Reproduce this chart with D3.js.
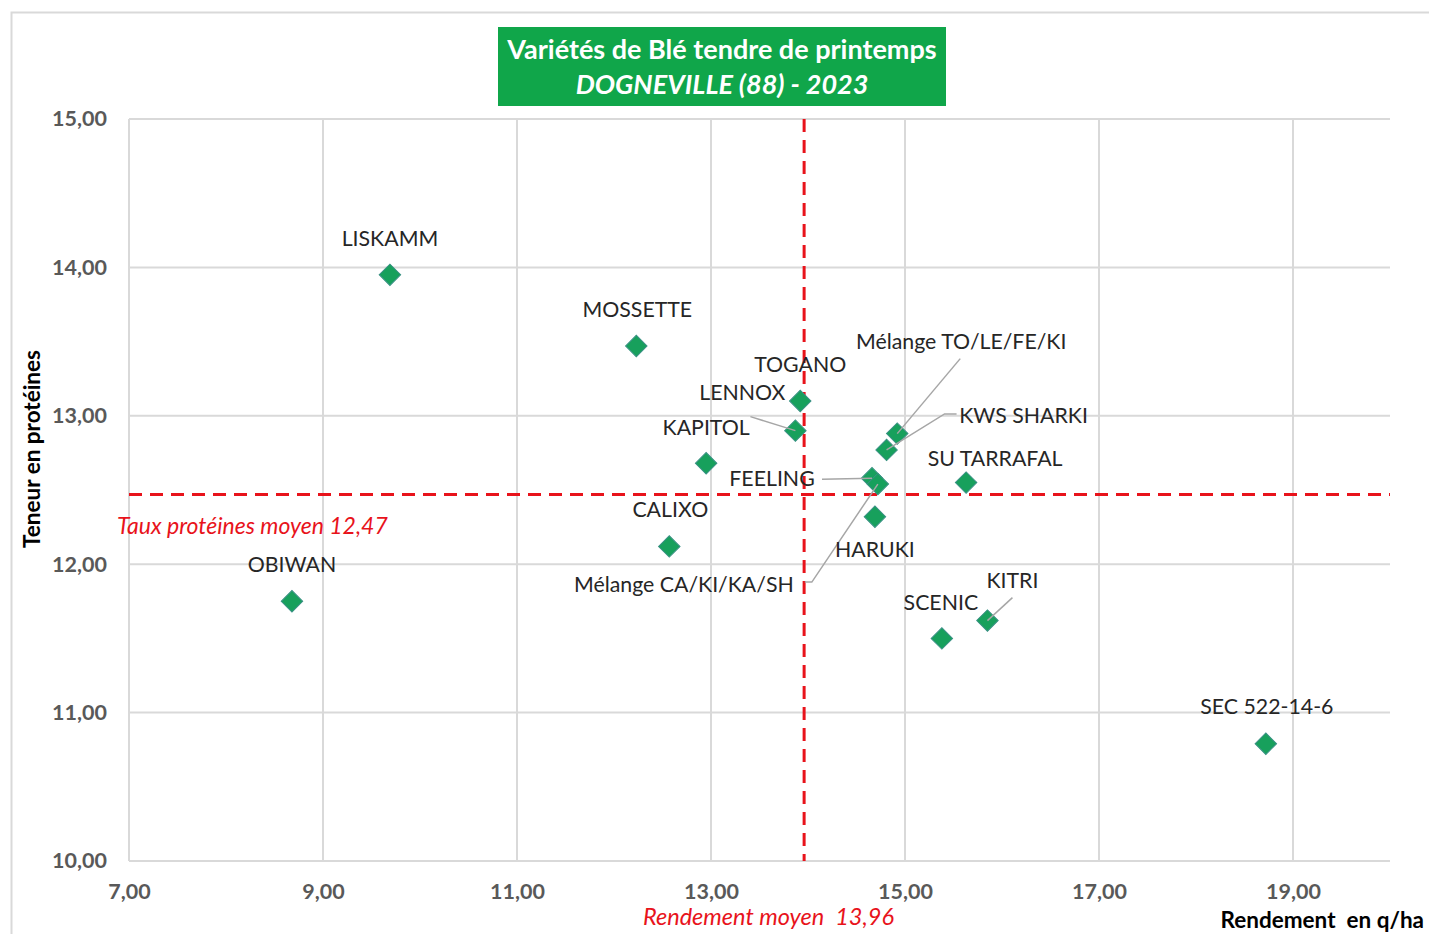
<!DOCTYPE html>
<html>
<head>
<meta charset="utf-8">
<script src="https://cdn.jsdelivr.net/npm/d3@7"></script>
<style>
  body { margin: 0; background: #fff; }
  svg { display: block; font-family: Lato, 'Open Sans', sans-serif; }
</style>
</head>
<body>
<div id="chart"></div>
<script>
// values
const varieties = ['LISKAMM', 'MOSSETTE', 'TOGANO', 'LENNOX', 'KAPITOL', 'Mélange TO/LE/FE/KI',
  'KWS SHARKI', 'FEELING', 'Mélange CA/KI/KA/SH', 'SU TARRAFAL', 'HARUKI', 'CALIXO',
  'OBIWAN', 'SCENIC', 'KITRI', 'SEC 522-14-6']
const rendement = [9.69, 12.23, 13.92, 13.87, 12.95, 14.92, 14.81, 14.66, 14.72, 15.63, 14.69, 12.57, 8.68, 15.38, 15.85, 18.72]
const proteines = [13.95, 13.47, 13.10, 12.90, 12.68, 12.88, 12.77, 12.58, 12.54, 12.55, 12.32, 12.12, 11.75, 11.50, 11.62, 10.79]
const xTicks = [7, 9, 11, 13, 15, 17, 19]
const yTicks = [10, 11, 12, 13, 14, 15]
const moyRendement = 13.96
const moyProteines = 12.47

// label placement (pixel offsets from the marker), leader = polyline from label to marker
const labelLayout = {
  'LISKAMM': { dx: 0, dy: -37 },
  'MOSSETTE': { dx: 1, dy: -37 },
  'TOGANO': { dx: 0, dy: -37 },
  'LENNOX': { dx: -53, dy: -39, leader: [[-45, -14], [0, 0]] },
  'KAPITOL': { dx: 0, dy: -36 },
  'Mélange TO/LE/FE/KI': { dx: 64, dy: -93, leader: [[63, -75], [0, 0]] },
  'KWS SHARKI': { dx: 137, dy: -35, leader: [[70, -36], [58, -36], [0, 0]] },
  'FEELING': { dx: -100, dy: 0, leader: [[-50, 1], [0, 0]] },
  'Mélange CA/KI/KA/SH': { dx: -194, dy: 100, leader: [[-73, 98], [-66, 98], [0, 0]] },
  'SU TARRAFAL': { dx: 29, dy: -25 },
  'HARUKI': { dx: 0, dy: 32 },
  'CALIXO': { dx: 1, dy: -37 },
  'OBIWAN': { dx: 0, dy: -37 },
  'SCENIC': { dx: -1, dy: -36 },
  'KITRI': { dx: 25, dy: -41, leader: [[25, -23], [0, 0]] },
  'SEC 522-14-6': { dx: 1, dy: -38 }
}

const data = varieties.map((v, i) => ({ name: v, x: rendement[i], y: proteines[i] }))

const width = 1429, height = 934
const fmt = v => d3.format('.2f')(v).replace('.', ',')

const svg = d3.select('#chart').append('svg')
  .attr('width', width)
  .attr('height', height)

// chart frame
svg.append('rect')
  .attr('x', 11.5).attr('y', 12.5)
  .attr('width', 1440).attr('height', 960)
  .attr('fill', '#fff')
  .attr('stroke', '#d9d9d9')
  .attr('stroke-width', 2)

const x = d3.scaleLinear().domain([7, 20]).range([129, 1390])
const y = d3.scaleLinear().domain([10, 15]).range([861, 119])

// grid
svg.append('g')
  .selectAll('line')
  .data(yTicks)
  .enter()
  .append('line')
  .attr('x1', x(7)).attr('x2', x(20))
  .attr('y1', d => y(d)).attr('y2', d => y(d))
  .attr('stroke', '#d9d9d9')
  .attr('stroke-width', 2)

svg.append('g')
  .selectAll('line')
  .data(xTicks)
  .enter()
  .append('line')
  .attr('x1', d => x(d)).attr('x2', d => x(d))
  .attr('y1', y(10)).attr('y2', y(15))
  .attr('stroke', '#d9d9d9')
  .attr('stroke-width', 2)

// axes (labels only, lines are the grid)
const xAxis = svg.append('g')
  .attr('transform', `translate(0,${y(10)})`)
  .call(d3.axisBottom(x).tickValues(xTicks).tickFormat(fmt).tickSize(0).tickPadding(23))
xAxis.select('.domain').remove()
xAxis.selectAll('text')
  .attr('font-family', 'Lato, sans-serif')
  .attr('font-size', 21.5)
  .attr('font-weight', 'bold')
  .attr('fill', '#595959')

const yAxis = svg.append('g')
  .attr('transform', `translate(${x(7)},0)`)
  .call(d3.axisLeft(y).tickValues(yTicks).tickFormat(fmt).tickSize(0).tickPadding(22))
yAxis.select('.domain').remove()
yAxis.selectAll('text')
  .attr('font-family', 'Lato, sans-serif')
  .attr('font-size', 21.5)
  .attr('font-weight', 'bold')
  .attr('fill', '#595959')

// mean lines
svg.append('line')
  .attr('x1', x(moyRendement)).attr('x2', x(moyRendement))
  .attr('y1', y(15)).attr('y2', y(10))
  .attr('stroke', '#e8131b')
  .attr('stroke-width', 3)
  .attr('stroke-dasharray', '13,8')

svg.append('line')
  .attr('x1', x(7)).attr('x2', x(20))
  .attr('y1', y(moyProteines)).attr('y2', y(moyProteines))
  .attr('stroke', '#e8131b')
  .attr('stroke-width', 3)
  .attr('stroke-dasharray', '13,8')

svg.append('text')
  .attr('x', 117).attr('y', y(moyProteines) + 40)
  .attr('font-size', 23)
  .attr('font-style', 'italic')
  .attr('fill', '#e8131b')
  .text('Taux protéines moyen ' + fmt(moyProteines))

svg.append('text')
  .attr('x', 643).attr('y', 925)
  .attr('font-size', 23.5)
  .attr('font-style', 'italic')
  .attr('fill', '#e8131b')
  .attr('xml:space', 'preserve')
  .text('Rendement moyen  ' + fmt(moyRendement))

// axis titles
svg.append('text')
  .attr('x', 1424).attr('y', 928)
  .attr('text-anchor', 'end')
  .attr('font-size', 22.5)
  .attr('font-weight', 'bold')
  .attr('fill', '#000')
  .attr('xml:space', 'preserve')
  .text('Rendement  en q/ha')

svg.append('text')
  .attr('transform', 'translate(40,449) rotate(-90)')
  .attr('text-anchor', 'middle')
  .attr('font-size', 22.5)
  .attr('font-weight', 'bold')
  .attr('fill', '#000')
  .text('Teneur en protéines')

// markers
svg.append('g')
  .selectAll('path')
  .data(data)
  .enter()
  .append('path')
  .attr('d', d3.symbol().type(d3.symbolSquare).size(230))
  .attr('transform', d => `translate(${x(d.x)},${y(d.y)}) rotate(45)`)
  .attr('fill', '#17a05c')
  .attr('stroke', '#3a9184')
  .attr('stroke-width', 1)

// leader lines
svg.append('g')
  .selectAll('polyline')
  .data(data.filter(d => labelLayout[d.name].leader))
  .enter()
  .append('polyline')
  .attr('points', d => labelLayout[d.name].leader
    .map(p => [x(d.x) + p[0], y(d.y) + p[1]].join(',')).join(' '))
  .attr('fill', 'none')
  .attr('stroke', '#a6a6a6')
  .attr('stroke-width', 1.5)

// point labels
svg.append('g')
  .selectAll('text')
  .data(data)
  .enter()
  .append('text')
  .attr('x', d => x(d.x) + labelLayout[d.name].dx)
  .attr('y', d => y(d.y) + labelLayout[d.name].dy)
  .attr('text-anchor', 'middle')
  .attr('dominant-baseline', 'central')
  .attr('font-size', 21.3)
  .attr('fill', '#262626')
  .text(d => d.name)

// title box
svg.append('rect')
  .attr('x', 498).attr('y', 27)
  .attr('width', 448).attr('height', 79)
  .attr('fill', '#10a64a')

svg.append('text')
  .attr('x', 722).attr('y', 59)
  .attr('text-anchor', 'middle')
  .attr('font-size', 27)
  .attr('font-weight', 'bold')
  .attr('fill', '#fff')
  .text('Variétés de Blé tendre de printemps')

svg.append('text')
  .attr('x', 722).attr('y', 94)
  .attr('text-anchor', 'middle')
  .attr('font-size', 27)
  .attr('font-weight', 'bold')
  .attr('font-style', 'italic')
  .attr('fill', '#fff')
  .text('DOGNEVILLE (88) - 2023')
</script>
</body>
</html>
